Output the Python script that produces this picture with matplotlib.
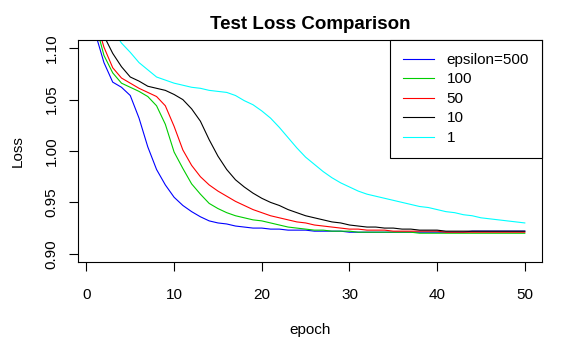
import numpy as np
import matplotlib
matplotlib.use("Agg")
import matplotlib.pyplot as plt

plt.rcParams['font.family'] = ['Liberation Sans', 'DejaVu Sans']

# epochs 1..50, test loss per epsilon
epochs = np.arange(1, 51)

loss_500 = [1.115, 1.086, 1.067, 1.062, 1.054, 1.032, 1.004, 0.982, 0.967, 0.955,
            0.947, 0.941, 0.936, 0.932, 0.930, 0.929, 0.927, 0.926, 0.925, 0.925,
            0.924, 0.924, 0.923, 0.923, 0.923, 0.922, 0.922, 0.922, 0.922, 0.921,
            0.921, 0.921, 0.921, 0.921, 0.921, 0.921, 0.921, 0.921, 0.921, 0.921,
            0.921, 0.921, 0.921, 0.922, 0.922, 0.922, 0.922, 0.922, 0.922, 0.922]
loss_100 = [1.125, 1.093, 1.076, 1.066, 1.062, 1.058, 1.053, 1.044, 1.026, 0.999,
            0.983, 0.968, 0.958, 0.949, 0.944, 0.940, 0.937, 0.935, 0.933, 0.932,
            0.930, 0.928, 0.926, 0.925, 0.924, 0.923, 0.923, 0.922, 0.922, 0.922,
            0.921, 0.921, 0.921, 0.921, 0.921, 0.921, 0.921, 0.920, 0.920, 0.920,
            0.920, 0.920, 0.920, 0.920, 0.920, 0.920, 0.920, 0.920, 0.920, 0.920]
loss_50 = [1.130, 1.101, 1.081, 1.071, 1.066, 1.061, 1.057, 1.053, 1.044, 1.024,
           1.001, 0.986, 0.975, 0.967, 0.961, 0.956, 0.951, 0.947, 0.943, 0.940,
           0.937, 0.935, 0.933, 0.931, 0.930, 0.928, 0.927, 0.926, 0.925, 0.924,
           0.924, 0.923, 0.923, 0.923, 0.922, 0.922, 0.922, 0.922, 0.922, 0.922,
           0.921, 0.921, 0.921, 0.921, 0.921, 0.921, 0.921, 0.921, 0.921, 0.921]
loss_10 = [1.140, 1.112, 1.095, 1.082, 1.072, 1.068, 1.063, 1.061, 1.059, 1.055,
           1.050, 1.041, 1.029, 1.011, 0.995, 0.982, 0.972, 0.965, 0.959, 0.954,
           0.950, 0.947, 0.943, 0.940, 0.937, 0.935, 0.933, 0.931, 0.930, 0.928,
           0.927, 0.926, 0.926, 0.925, 0.925, 0.924, 0.924, 0.923, 0.923, 0.923,
           0.922, 0.922, 0.922, 0.922, 0.922, 0.922, 0.922, 0.922, 0.922, 0.922]
loss_1 = [1.160, 1.140, 1.118, 1.105, 1.096, 1.086, 1.079, 1.072, 1.069, 1.066,
          1.064, 1.062, 1.061, 1.059, 1.058, 1.057, 1.054, 1.049, 1.045, 1.039,
          1.032, 1.023, 1.013, 1.003, 0.994, 0.987, 0.980, 0.974, 0.969, 0.965,
          0.961, 0.958, 0.956, 0.954, 0.952, 0.950, 0.948, 0.946, 0.945, 0.943,
          0.941, 0.940, 0.938, 0.937, 0.935, 0.934, 0.933, 0.932, 0.931, 0.930]

labels = ["epsilon=500", "100", "50", "10", "1"]
colors = ["#0000FF", "#00CD00", "#FF0000", "#000000", "#00FFFF"]
series = [loss_500, loss_100, loss_50, loss_10, loss_1]

fig = plt.figure(figsize=(5.82, 3.6), dpi=100)
ax = fig.add_axes([78/582, 1 - 262/360, 464/582, 222/360])

for y, c, lab in zip(series, colors, labels):
    ax.plot(epochs, y, color=c, lw=0.8, label=lab)

ax.set_xlim(1 - 0.04*49, 50 + 0.04*49)
ax.set_ylim(0.892, 1.108)
ax.set_xticks([0, 10, 20, 30, 40, 50])
ax.set_yticks([0.90, 0.95, 1.00, 1.05, 1.10])
ax.set_yticklabels(["0.90", "0.95", "1.00", "1.05", "1.10"], rotation=90, va="center")

for s in ax.spines.values():
    s.set_linewidth(0.8)
    s.set_color("black")
ax.tick_params(length=6.5, width=0.8, labelsize=11, color="black")
ax.tick_params(axis="x", pad=12)
ax.tick_params(axis="y", pad=7.5)

ax.set_xlabel("epoch", fontsize=11, labelpad=15)
ax.set_ylabel("Loss", fontsize=11, labelpad=14)
ax.set_title("Test Loss Comparison", fontsize=13.5, fontweight="bold", pad=8)

leg = ax.legend(loc="upper right", bbox_to_anchor=(1, 1), borderaxespad=0,
                fancybox=False, framealpha=1, edgecolor="black", fontsize=11,
                handlelength=2.0, handletextpad=0.85, labelspacing=0.36,
                borderpad=0.85)
leg.get_frame().set_linewidth(0.8)

fig.savefig("out.png", dpi=100)
